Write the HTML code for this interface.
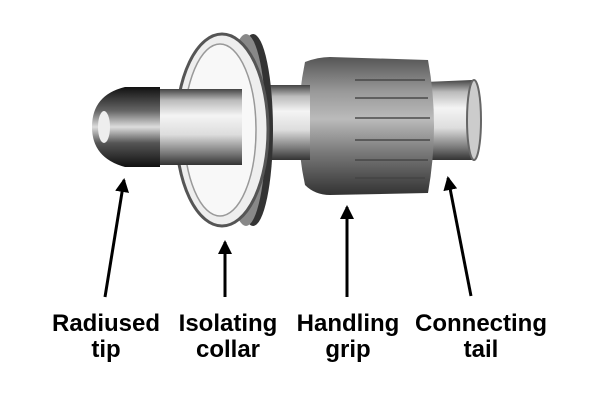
<!DOCTYPE html>
<html><head><style>html,body{margin:0;padding:0;background:#fff}svg{display:block}</style></head>
<body>
<svg width="600" height="400" viewBox="0 0 600 400" xmlns="http://www.w3.org/2000/svg">
<defs>
<linearGradient id="cyl" x1="0" y1="0" x2="0" y2="1">
<stop offset="0" stop-color="#444"/><stop offset="0.15" stop-color="#bbb"/><stop offset="0.35" stop-color="#f4f4f4"/><stop offset="0.6" stop-color="#ddd"/><stop offset="0.85" stop-color="#777"/><stop offset="1" stop-color="#333"/>
</linearGradient>
<linearGradient id="grip" x1="0" y1="0" x2="0" y2="1">
<stop offset="0" stop-color="#555"/><stop offset="0.25" stop-color="#999"/><stop offset="0.45" stop-color="#bbb"/><stop offset="0.7" stop-color="#777"/><stop offset="1" stop-color="#333"/>
</linearGradient>
<linearGradient id="tip" x1="0" y1="0" x2="0" y2="1">
<stop offset="0" stop-color="#111"/><stop offset="0.3" stop-color="#666"/><stop offset="0.5" stop-color="#ddd"/><stop offset="0.7" stop-color="#555"/><stop offset="1" stop-color="#111"/>
</linearGradient>
<marker id="ah" markerWidth="16" markerHeight="14" refX="12" refY="7" orient="auto" markerUnits="userSpaceOnUse"><path d="M0,0 L14,7 L0,14 Z" fill="#000"/></marker>
</defs>
<path d="M425,82 L472,80 Q484,120 472,160 L425,160 Z" fill="url(#cyl)"/>
<ellipse cx="474" cy="120" rx="7" ry="40" fill="#ccc" stroke="#666" stroke-width="2"/>
<path d="M305,62 Q318,57 330,57 L428,60 Q440,125 428,193 L330,195 Q315,195 305,185 Q292,125 305,62 Z" fill="url(#grip)"/>
<g stroke="#444" stroke-width="2" opacity="0.7">
<line x1="355" y1="80" x2="425" y2="80"/><line x1="355" y1="98" x2="428" y2="98"/><line x1="355" y1="118" x2="430" y2="118"/><line x1="355" y1="140" x2="430" y2="140"/><line x1="355" y1="160" x2="428" y2="160"/><line x1="355" y1="178" x2="425" y2="178"/>
</g>
<rect x="265" y="85" width="45" height="75" fill="url(#cyl)"/>
<ellipse cx="253" cy="130" rx="20" ry="96" fill="#333"/>
<ellipse cx="246" cy="130" rx="20" ry="96" fill="#888"/>
<ellipse cx="222" cy="130" rx="46" ry="96" fill="#eee" stroke="#555" stroke-width="3"/>
<ellipse cx="220" cy="130" rx="36" ry="86" fill="#f8f8f8" stroke="#999" stroke-width="1.5"/>
<rect x="150" y="89" width="92" height="76" fill="url(#cyl)"/>
<path d="M160,87 L125,87 Q92,95 92,127 Q92,158 125,167 L160,167 Z" fill="url(#tip)"/>
<ellipse cx="104" cy="127" rx="6" ry="16" fill="#eee"/>
<g stroke="#000" stroke-width="3" fill="none">
<line x1="105" y1="297" x2="124" y2="180" marker-end="url(#ah)"/>
<line x1="225" y1="297" x2="225" y2="242" marker-end="url(#ah)"/>
<line x1="347" y1="297" x2="347" y2="207" marker-end="url(#ah)"/>
<line x1="471" y1="296" x2="448" y2="178" marker-end="url(#ah)"/>
</g>
<g font-family="Liberation Sans, sans-serif" font-weight="bold" font-size="24" fill="#000" text-anchor="middle">
<text x="106" y="331">Radiused</text><text x="106" y="357">tip</text>
<text x="228" y="331">Isolating</text><text x="228" y="357">collar</text>
<text x="348" y="331">Handling</text><text x="348" y="357">grip</text>
<text x="481" y="331">Connecting</text><text x="481" y="357">tail</text>
</g>
</svg>
</body></html>
